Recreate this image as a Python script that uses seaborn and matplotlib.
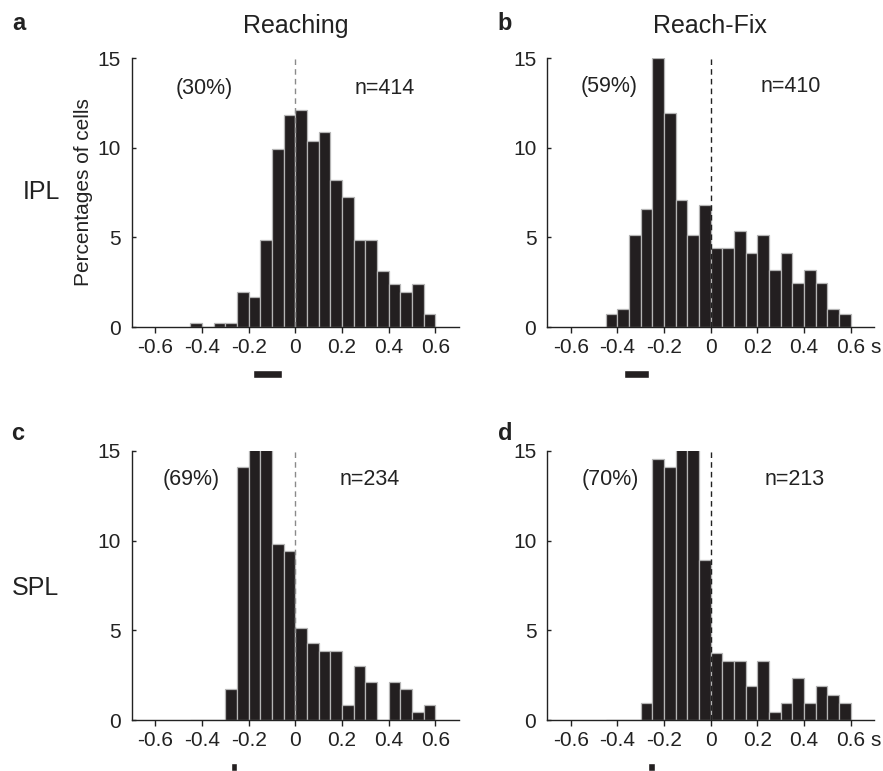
import numpy as np
import matplotlib
matplotlib.use("Agg")
import matplotlib.pyplot as plt
import seaborn as sns

sns.set_theme(style="ticks")
plt.rcParams['font.family'] = ['Liberation Sans', 'DejaVu Sans']

# bin edges (s)
bin_edges = [round(-0.45 + 0.05 * i, 2) for i in range(22)]   # -0.45 .. 0.60
bin_centers = [round(e + 0.025, 3) for e in bin_edges[:-1]]

# percentages of cells per bin
reaching_ipl = [0.24, 0.0, 0.24, 0.24, 1.93, 1.69, 4.83, 9.90, 11.84, 12.08, 10.39,
                10.87, 8.21, 7.25, 4.83, 4.83, 3.14, 2.42, 1.93, 2.42, 0.72]
reachfix_ipl = [0.73, 0.98, 5.12, 6.59, 15.0, 11.95, 7.07, 5.12, 6.83, 4.39, 4.39,
                5.37, 4.15, 5.12, 3.17, 4.15, 2.44, 3.17, 2.44, 0.98, 0.73]
reaching_spl = [0.0, 0.0, 0.0, 1.71, 14.10, 18.4, 18.4, 9.83, 9.40, 5.13, 4.27,
                3.85, 3.85, 0.85, 2.99, 2.14, 0.0, 2.14, 1.71, 0.43, 0.85]
reachfix_spl = [0.0, 0.0, 0.0, 0.94, 14.55, 14.08, 18.8, 18.3, 8.92, 3.76, 3.29,
                3.29, 1.88, 3.29, 0.47, 0.94, 2.35, 0.94, 1.88, 1.41, 0.94]

panel_values = [reaching_ipl, reachfix_ipl, reaching_spl, reachfix_spl]
panel_letters = ["a", "b", "c", "d"]
percent_labels = ["(30%)", "(59%)", "(69%)", "(70%)"]
n_labels = ["n=414", "n=410", "n=234", "n=213"]
col_titles = ["Reaching", "Reach-Fix"]
row_labels = ["IPL", "SPL"]
# summary bars under the axis (start, end) in s
summary_bars = [(-0.18, -0.055), (-0.37, -0.263), (-0.277, -0.249), (-0.27, -0.237)]

xticks = [-0.6, -0.4, -0.2, 0, 0.2, 0.4, 0.6]
xticklabels = ["-0.6", "-0.4", "-0.2", "0", "0.2", "0.4", "0.6"]
yticks = [0, 5, 10, 15]

W, H = 883, 771
fig = plt.figure(figsize=(W / 100, H / 100), dpi=100)

lefts = [132 / W, 547.4 / W]
bottoms = [(H - 327) / H, (H - 720) / H]
aw = 326.6 / W
ah = 269 / H

text_pos = [((-0.389, 13.3), (0.382, 13.3)),
            ((-0.434, 13.4), (0.342, 13.4)),
            ((-0.446, 13.4), (0.318, 13.4)),
            ((-0.43, 13.4), (0.358, 13.4))]
dash_colors = ["#8a8a8a", "#222222", "#8a8a8a", "#222222"]
TICK_FS = 15
ANN_FS = 15.5

for i in range(4):
    r, c = divmod(i, 2)
    ax = fig.add_axes([lefts[c], bottoms[r], aw, ah])
    sns.histplot(x=bin_centers, weights=panel_values[i], bins=bin_edges, ax=ax,
                 color="#231f20", alpha=1, edgecolor="#b5b5b5", linewidth=0.9)
    ax.set_xlim(-0.7, 0.7)
    ax.set_ylim(0, 15)
    ax.axvline(0, color=dash_colors[i], ls=(0, (4, 3)), lw=1.0, zorder=5)
    sns.despine(ax=ax)
    for sp in ["left", "bottom"]:
        ax.spines[sp].set_linewidth(1.0)
        ax.spines[sp].set_color("#222222")
    ax.set_xticks(xticks)
    ax.set_xticklabels(xticklabels)
    ax.set_yticks(yticks)
    ax.tick_params(axis="x", direction="out", length=4, width=1.0, pad=4,
                   labelsize=TICK_FS, colors="#222222")
    ax.tick_params(axis="y", direction="in", length=3, width=1.0, pad=8,
                   labelsize=TICK_FS, colors="#222222")
    ax.set_ylabel("")
    ax.set_xlabel("")
    if i == 0:
        ax.set_ylabel("Percentages of cells", fontsize=15, color="#222222", labelpad=3)
    (px, py), (nx, ny) = text_pos[i]
    ax.text(px, py, percent_labels[i], ha="center", va="center", fontsize=ANN_FS, color="#222222")
    ax.text(nx, ny, n_labels[i], ha="center", va="center", fontsize=ANN_FS, color="#222222")
    s0, s1 = summary_bars[i]
    ax.barh([-2.62], [s1 - s0], left=[s0], height=0.44, color="#231f20", clip_on=False)
    if c == 1:
        ax.annotate("s", xy=(0.708, 0), xycoords=("data", "axes fraction"),
                    xytext=(0, -8), textcoords="offset points",
                    ha="center", va="top", fontsize=TICK_FS, color="#222222")

# panel letters
letter_xy = [(19, 24), (505, 24), (18, 433), (505, 433)]
for L, (x, y) in zip(panel_letters, letter_xy):
    fig.text(x / W, 1 - y / H, L, ha="center", va="center", fontsize=17,
             fontweight="bold", color="#222222")

# column titles
fig.text(295.7 / W, 1 - 26 / H, col_titles[0], ha="center", va="center", fontsize=18, color="#222222")
fig.text(710.3 / W, 1 - 26 / H, col_titles[1], ha="center", va="center", fontsize=18, color="#222222")

# row labels
fig.text(23 / W, 1 - 192 / H, row_labels[0], ha="left", va="center", fontsize=18, color="#222222")
fig.text(12 / W, 1 - 588 / H, row_labels[1], ha="left", va="center", fontsize=18, color="#222222")

fig.savefig("out.png", dpi=100, facecolor="white")
